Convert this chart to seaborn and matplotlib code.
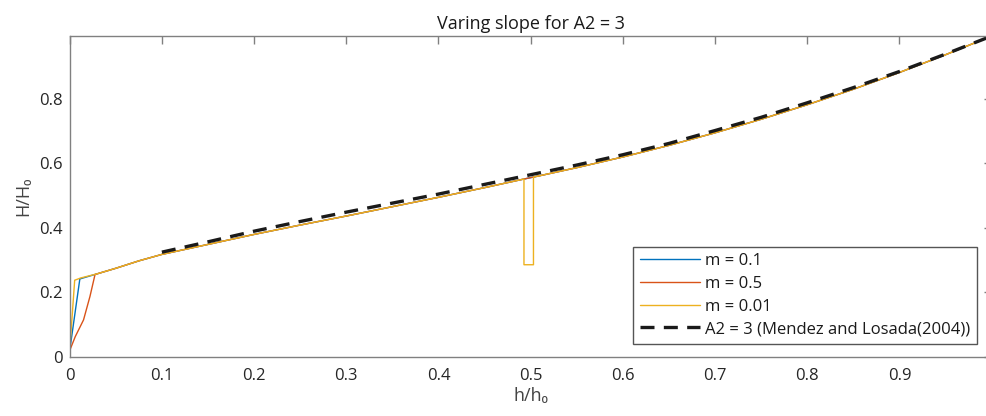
import numpy as np
import pandas as pd
import matplotlib
matplotlib.use("Agg")
import matplotlib.pyplot as plt
import seaborn as sns

# ---------------- data ----------------
main_x = [0.03, 0.05, 0.075, 0.1, 0.15, 0.2, 0.25, 0.3, 0.35, 0.4, 0.45, 0.49,
          0.51, 0.55, 0.6, 0.65, 0.7, 0.75, 0.8, 0.85, 0.9, 0.95, 1.0]
main_y = [0.258, 0.275, 0.298, 0.318, 0.349, 0.380, 0.409, 0.437, 0.466, 0.495, 0.525, 0.550,
          0.562, 0.587, 0.620, 0.656, 0.695, 0.737, 0.782, 0.830, 0.882, 0.937, 0.995]

blue_start_x = [0.0, 0.011]
blue_start_y = [0.02, 0.242]

red_start_x = [0.0, 0.006, 0.015, 0.022, 0.0275]
red_start_y = [0.02, 0.063, 0.115, 0.188, 0.256]

yellow_start_x = [0.0, 0.0054, 0.012]
yellow_start_y = [0.02, 0.238, 0.245]

# glitch of the m = 0.01 curve near h/h0 = 0.5
glitch_x = [0.4927, 0.4927, 0.503, 0.503]
glitch_y = [0.5517, 0.286, 0.286, 0.558]

ref_x = [0.1, 0.15, 0.2, 0.25, 0.3, 0.35, 0.4, 0.45, 0.5, 0.55, 0.6, 0.65, 0.7,
         0.75, 0.8, 0.85, 0.9, 0.95, 1.0]
ref_y = [0.325, 0.357, 0.390, 0.420, 0.449, 0.477, 0.505, 0.535, 0.565, 0.595, 0.627,
         0.662, 0.702, 0.743, 0.788, 0.835, 0.885, 0.939, 0.995]

labels = ["m = 0.1", "m = 0.5", "m = 0.01", "A2 = 3 (Mendez and Losada(2004))"]
title = "Varing slope for A2 = 3"
x_ticks = [0, 0.1, 0.2, 0.3, 0.4, 0.5, 0.6, 0.7, 0.8, 0.9, 1.0]
x_tick_labels = ["0", "0.1", "0.2", "0.3", "0.4", "0.5", "0.6", "0.7", "0.8", "0.9", "1"]
y_ticks = [0, 0.2, 0.4, 0.6, 0.8]
y_tick_labels = ["0", "0.2", "0.4", "0.6", "0.8"]

# build series
blue_x = blue_start_x + main_x
blue_y = blue_start_y + main_y
red_x = red_start_x + main_x
red_y = red_start_y + main_y
cut = main_x.index(0.49) + 1
yellow_x = yellow_start_x + main_x[:cut] + glitch_x + main_x[cut:]
yellow_y = yellow_start_y + main_y[:cut] + glitch_y + main_y[cut:]

# ---------------- plotting ----------------
sns.set_theme(style="white")
plt.rcParams["font.family"] = ["Open Sans", "DejaVu Sans"]

fig = plt.figure(figsize=(9.87, 4.16), dpi=100)
ax = fig.add_axes([69.7 / 987, 59 / 416, 922 / 987, 321 / 416])

colors = ["#0072BD", "#D95319", "#EDB120"]
series = [(blue_x, blue_y), (red_x, red_y), (yellow_x, yellow_y)]
for (xs, ys), c, lab in zip(series, colors, labels[:3]):
    df = pd.DataFrame({"x": xs, "y": ys})
    sns.lineplot(data=df, x="x", y="y", ax=ax, sort=False, estimator=None,
                 color=c, linewidth=1.0, label=lab)

df_ref = pd.DataFrame({"x": ref_x, "y": ref_y})
sns.lineplot(data=df_ref, x="x", y="y", ax=ax, sort=False, estimator=None,
             color="#1a1a1a", linewidth=2.4, label=labels[3])
ax.lines[-1].set_dashes([4.2, 2.8])

ax.set_xlim(0, 1.0)
ax.set_ylim(0, 0.995)
ax.set_xticks(x_ticks)
ax.set_xticklabels(x_tick_labels)
ax.set_yticks(y_ticks)
ax.set_yticklabels(y_tick_labels)

axcol = "#262626"
for s in ax.spines.values():
    s.set_visible(True)
    s.set_color("#808080")
    s.set_linewidth(1.0)
ax.tick_params(axis="both", direction="in", length=5.5, width=1.0, color="#808080",
               labelsize=12, labelcolor=axcol, top=True, right=True, pad=5)
ax.tick_params(axis="x", pad=8)

ax.set_xlabel("h/h\u2080", fontsize=13, color="#444444", labelpad=2)
ax.set_ylabel("H/H\u2080", fontsize=13, color="#444444", labelpad=5)
ax.set_title(title, fontsize=13, color="#1a1a1a", pad=5)

leg = ax.legend(loc="lower right", bbox_to_anchor=(0.984, 0.0405), fontsize=12,
                frameon=True, fancybox=False, shadow=False, framealpha=1,
                handlelength=3.6, labelspacing=0.4, borderpad=0.4, handletextpad=0.3,
                borderaxespad=0)
leg.get_frame().set_edgecolor("#555555")
leg.get_frame().set_linewidth(1.0)
for t in leg.get_texts():
    t.set_color("#1a1a1a")

fig.savefig("out.png", dpi=100)
